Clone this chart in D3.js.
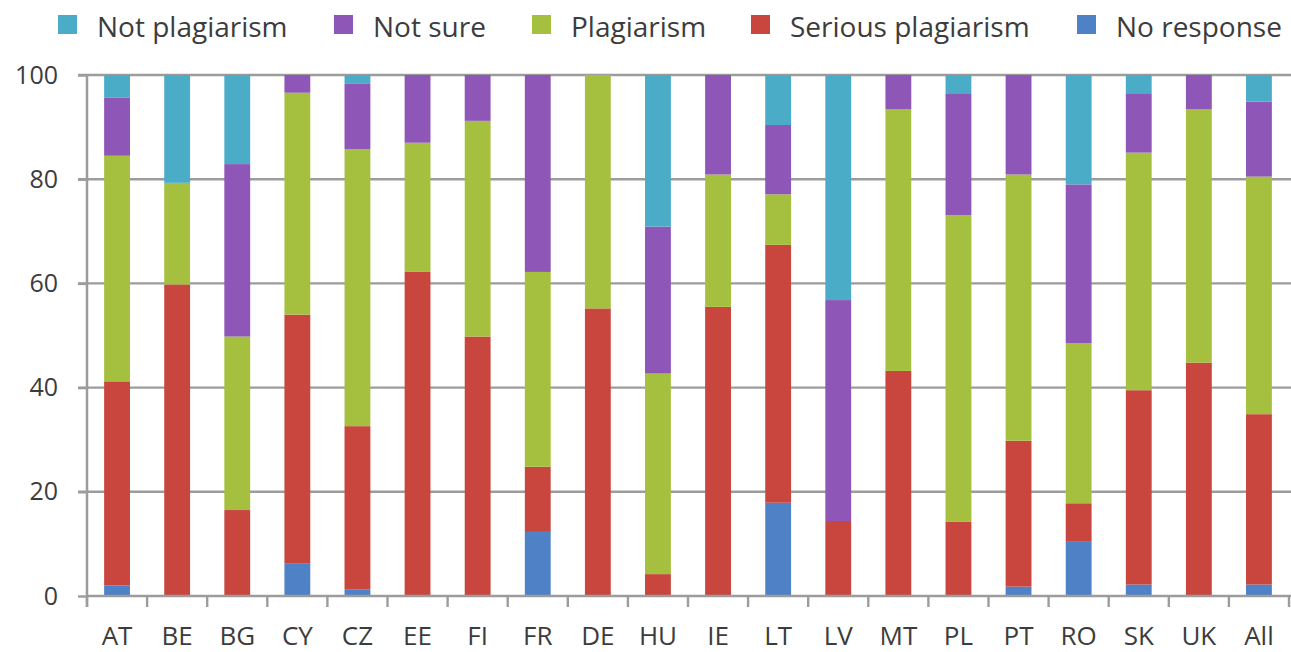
<!DOCTYPE html>
<html><head><meta charset="utf-8">
<script src="https://cdn.jsdelivr.net/npm/d3@7"></script>
<style>
html,body{margin:0;padding:0;background:#fff;}
svg text{font-family:"Open Sans",sans-serif;fill:#3c3c3c;}
</style></head>
<body><svg id="c" width="1291" height="652"></svg>
<script>
const categories = ["AT","BE","BG","CY","CZ","EE","FI","FR","DE","HU","IE","LT","LV","MT","PL","PT","RO","SK","UK","All"];
const seriesNames = ["No response","Serious plagiarism","Plagiarism","Not sure","Not plagiarism"];
const noResponse        = [2,   0,   0,   6.3, 1.3, 0,   0,   12.3, 0,   0,   0,   17.9, 0,   0,   0,   1.8, 10.4, 2.2, 0,   2.2];
const seriousPlagiarism = [39.2,59.8,16.5,47.7,31.3,62.2,49.8,12.5, 55.2,4.2, 55.5,49.5, 14.4,43.2,14.3,28, 7.4,  37.3,44.8,32.7];
const plagiarism        = [43.3,19.5,33.3,42.6,53.2,24.8,41.4,37.4, 44.8,38.5,25.4,9.7,  0,   50.2,58.8,51.1,30.7,45.6,48.6,45.6];
const notSure           = [11.2,0,   33.1,3.4, 12.6,13,  8.8, 37.8, 0,   28.2,19.1,13.3, 42.4,6.6, 23.4,19.1,30.5,11.4,6.6, 14.4];
const notPlagiarism     = [4.3, 20.7,17.1,0,   1.6, 0,   0,   0,    0,   29.1,0,   9.6,  43.2,0,   3.5, 0,   21,  3.5, 0,   5.1];
const yTicks = [0,20,40,60,80,100];
const legendOrder = ["Not plagiarism","Not sure","Plagiarism","Serious plagiarism","No response"];
const colors = {"No response":"#4f81c7","Serious plagiarism":"#c9463f","Plagiarism":"#a5c03e","Not sure":"#8e56b6","Not plagiarism":"#4bacc8"};

const seriesValues = [noResponse, seriousPlagiarism, plagiarism, notSure, notPlagiarism];
const rows = categories.map((c,i)=>{const r={cat:c}; seriesNames.forEach((s,j)=>r[s]=seriesValues[j][i]); return r;});
const stack = d3.stack().keys(seriesNames)(rows);

const svg = d3.select("#c");
const mLeft=87, mRight=1289, mTop=75, mBottom=596;
const x = d3.scaleBand().domain(categories).range([mLeft,mRight]).paddingInner(0.57).paddingOuter(0.285);
const y = d3.scaleLinear().domain([0,100]).range([mBottom,mTop]);
const grid = "#9c9c9c";

// gridlines
svg.append("g").selectAll("line").data(yTicks.filter(d=>d>0)).join("line")
  .attr("x1",mLeft-9).attr("x2",mRight+2).attr("y1",d=>y(d)).attr("y2",d=>y(d))
  .attr("stroke",grid).attr("stroke-width",2.4);

// bars
svg.append("g").selectAll("g").data(stack).join("g").attr("fill",d=>colors[d.key])
  .selectAll("rect").data(d=>d).join("rect")
  .attr("x",d=>x(d.data.cat)).attr("width",x.bandwidth())
  .attr("y",d=>y(d[1])).attr("height",d=>Math.max(0,y(d[0])-y(d[1])));

// y axis
const ya = svg.append("g").attr("transform",`translate(${mLeft},0)`)
  .call(d3.axisLeft(y).tickValues(yTicks).tickSize(9).tickPadding(20).tickFormat(d3.format("d")));
ya.select(".domain").attr("stroke",grid).attr("stroke-width",2.5).attr("d",`M0,${mTop}V${mBottom+11}`);
ya.selectAll(".tick line").attr("stroke",grid).attr("stroke-width",2.4);
ya.selectAll("text").attr("font-size",25).attr("fill","#3c3c3c").attr("font-family","Open Sans");

// x axis
const xa = svg.append("g").attr("transform",`translate(0,${mBottom})`)
  .call(d3.axisBottom(x).tickSize(0).tickPadding(31));
xa.select(".domain").attr("stroke",grid).attr("stroke-width",2.5).attr("d",`M${mLeft},0H${mRight+2}`);
xa.selectAll("text").attr("font-size",26).attr("fill","#3c3c3c").attr("font-family","Open Sans");
// boundary ticks
svg.append("g").selectAll("line").data(d3.range(categories.length+1)).join("line")
  .attr("x1",i=>mLeft+i*x.step()).attr("x2",i=>mLeft+i*x.step())
  .attr("y1",mBottom).attr("y2",mBottom+11).attr("stroke",grid).attr("stroke-width",2.4);

// legend
const legX = [97,373,571,790,1116];
const lg = svg.append("g").selectAll("g").data(legendOrder).join("g")
  .attr("transform",(d,i)=>`translate(${legX[i]},0)`);
lg.append("rect").attr("x",-39).attr("y",15).attr("width",19).attr("height",19).attr("fill",d=>colors[d]);
lg.append("text").attr("x",0).attr("y",37).attr("font-size",28).text(d=>d);
</script></body></html>
